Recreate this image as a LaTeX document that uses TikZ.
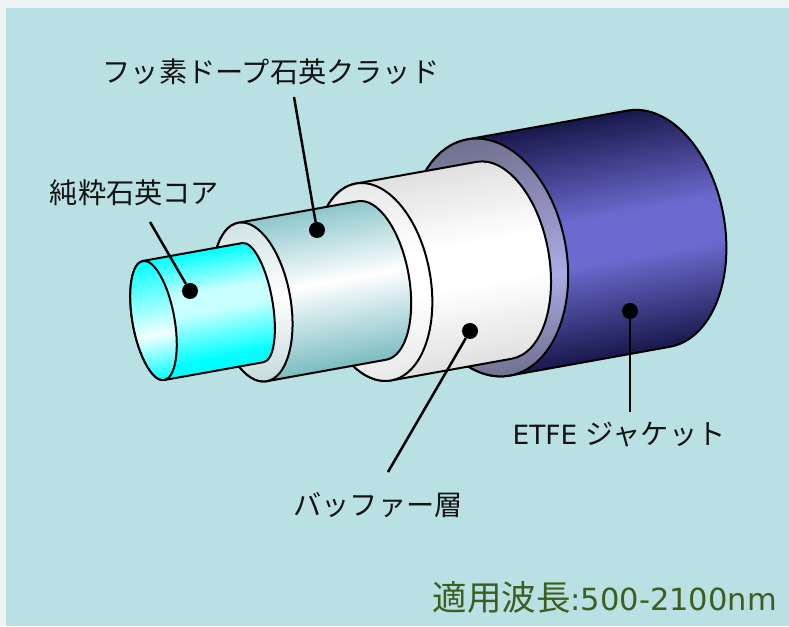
\documentclass[tikz,border=0pt]{standalone}
\usepackage{fontspec}
\setmainfont{Noto Sans CJK JP}
\newfontfamily\latinfont{DejaVu Sans}
\definecolor{outerbg}{RGB}{238,243,243}
\definecolor{panelbg}{RGB}{185,224,227}
\definecolor{notegreen}{RGB}{62,94,32}
\definecolor{labelink}{RGB}{20,20,20}
\definecolor{coreedge}{RGB}{0,255,255}
\definecolor{corepale}{RGB}{200,255,255}
\definecolor{facepale}{RGB}{240,255,255}
\definecolor{cladtop}{RGB}{140,198,204}
\definecolor{cladbot}{RGB}{122,188,194}
\definecolor{cladftop}{RGB}{208,226,228}
\definecolor{cladfbot}{RGB}{198,218,220}
\definecolor{bufedge}{RGB}{224,224,224}
\definecolor{buffedge}{RGB}{232,232,232}
\definecolor{jackdark}{RGB}{24,24,76}
\definecolor{jackmid}{RGB}{108,106,206}
\definecolor{jfdark}{RGB}{112,112,142}
\definecolor{jfmid}{RGB}{172,170,230}
\pgfdeclareverticalshading{corebody}{100bp}{color(0bp)=(coreedge);color(25bp)=(coreedge);color(30bp)=(coreedge);color(50bp)=(corepale);color(58bp)=(corepale);color(75bp)=(coreedge);color(100bp)=(coreedge)}
\pgfdeclareverticalshading{coreface}{100bp}{color(0bp)=(coreedge);color(25bp)=(coreedge);color(44bp)=(facepale);color(75bp)=(coreedge);color(100bp)=(coreedge)}
\pgfdeclareverticalshading{cladbody}{100bp}{color(0bp)=(cladbot);color(25bp)=(cladbot);color(52bp)=(white);color(75bp)=(cladtop);color(100bp)=(cladtop)}
\pgfdeclareverticalshading{cladface}{100bp}{color(0bp)=(cladfbot);color(25bp)=(cladfbot);color(50bp)=(white);color(75bp)=(cladftop);color(100bp)=(cladftop)}
\pgfdeclareverticalshading{bufbody}{100bp}{color(0bp)=(bufedge);color(25bp)=(bufedge);color(45bp)=(white);color(55bp)=(white);color(75bp)=(bufedge);color(100bp)=(bufedge)}
\pgfdeclareverticalshading{bufface}{100bp}{color(0bp)=(buffedge);color(25bp)=(buffedge);color(45bp)=(white);color(55bp)=(white);color(75bp)=(buffedge);color(100bp)=(buffedge)}
\pgfdeclareverticalshading{jackbody}{100bp}{color(0bp)=(jackdark);color(25bp)=(jackdark);color(45bp)=(jackmid);color(54bp)=(jackmid);color(75bp)=(jackdark);color(100bp)=(jackdark)}
\pgfdeclareverticalshading{jackface}{100bp}{color(0bp)=(jfdark);color(25bp)=(jfdark);color(44bp)=(jfmid);color(75bp)=(jfdark);color(100bp)=(jfdark)}
% centre x, centre y (from the top), half height, front half width, end half width, length, body shading, face shading
\newcommand\cylinderpart[8]{%
  \begin{scope}[transform canvas={shift={(#1,626-#2)},rotate=10.2}]
    \def\bodypath{(0,#3) -- (#6,#3) arc[start angle=90,end angle=-90,x radius=#5,y radius=#3] -- (0,-#3) arc[start angle=-90,end angle=-270,x radius=#4,y radius=#3] -- cycle}
    \begin{scope}
      \clip \bodypath;
      \shade[shading=#7] (-#4,-#3) rectangle (#6+#5,#3);
    \end{scope}
    \draw[outline] \bodypath;
    \begin{scope}
      \clip (0,0) ellipse[x radius=#4,y radius=#3];
      \shade[shading=#8] (-#4,-#3) rectangle (#4,#3);
    \end{scope}
    \draw[outline] (0,0) ellipse[x radius=#4,y radius=#3];
  \end{scope}}
\tikzset{
  outline/.style={draw=black,line width=2pt,line join=round},
  callout/.style={circle,fill=black,draw=none,inner sep=0pt,minimum size=16pt},
  leader/.style={draw=black,line width=2.5pt},
  partlabel/.style={text=labelink,font=\fontsize{28.2}{32}\selectfont,inner sep=0pt},
  wavenote/.style={text=notegreen,font=\fontsize{34.5}{38}\selectfont,inner sep=0pt}
}
\begin{document}
\begin{tikzpicture}[x=1pt,y=1pt]
  \useasboundingbox (0,0) rectangle (789,626);
  \fill[outerbg] (0,0) rectangle (789,626);
  \fill[panelbg] (6,0) rectangle (789,618);

  \cylinderpart{488.5}{257.5}{120}{78}{76}{162.7}{jackbody}{jackface}
  \cylinderpart{373.5}{282}{100}{57}{55}{122.5}{bufbody}{bufface}
  \cylinderpart{252.5}{302}{80.5}{38}{37}{121.5}{cladbody}{cladface}
  \cylinderpart{153.5}{320.5}{60.5}{21}{19.5}{101}{corebody}{coreface}

  \node[callout] (coredot) at (190,335) {};
  \node[callout] (claddot) at (317,396) {};
  \node[callout] (bufdot) at (470,295) {};
  \node[callout] (jackdot) at (630,315) {};
  \coordinate (coreend) at (150,404);
  \coordinate (cladend) at (294,529);
  \coordinate (bufend) at (388,154);
  \coordinate (jackend) at (630,214);
  \draw[leader] (coreend) -- (coredot);
  \draw[leader] (cladend) -- (claddot);
  \draw[leader] (bufend) -- (bufdot);
  \draw[leader] (jackend) -- (jackdot);

  \node[partlabel] (cladlabel) at (271,554) {フッ素ドープ石英クラッド};
  \node[partlabel] (corelabel) at (134.5,433) {純粋石英コア};
  \node[partlabel] (jacklabel) at (619,191) {{\latinfont\fontsize{26.5}{32}\selectfont ETFE }ジャケット};
  \node[partlabel] (buflabel) at (378,121) {バッファー層};
  \node[wavenote,anchor=east] (wavelabel) at (777,29) {適用波長{\latinfont\fontsize{30.5}{38}\selectfont :500-2100nm}};
\end{tikzpicture}
\end{document}
